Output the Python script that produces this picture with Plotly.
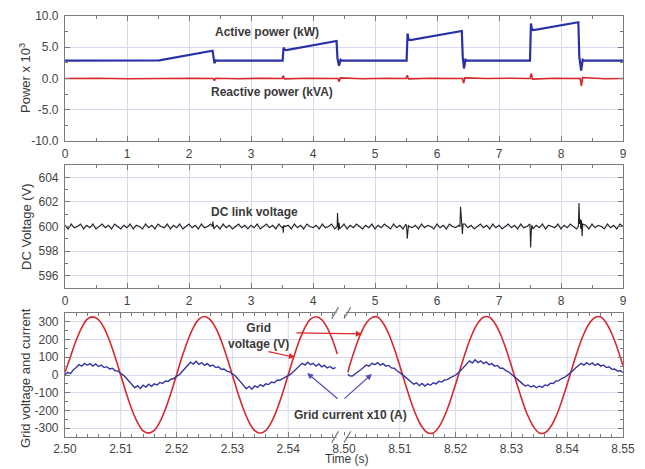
import numpy as np
import plotly.graph_objects as go

# ---------------- DATA ----------------
# Panel 1: active / reactive power (x10^3)
p_time = [0.0, 1.5, 1.52, 2.38, 2.395, 2.41, 2.43, 2.46, 3.51, 3.525, 3.545, 3.57,
          4.38, 4.395, 4.42, 4.445, 4.47, 5.51, 5.525, 5.54, 5.57, 6.40, 6.415, 6.435,
          6.46, 6.49, 7.50, 7.515, 7.53, 7.56, 8.28, 8.295, 8.325, 8.35, 8.38, 9.0]
active_kw = [2.85, 2.85, 2.9, 4.45, 3.0, 2.45, 2.9, 2.85, 2.85, 4.95, 4.6, 4.55,
             6.0, 3.2, 2.05, 3.0, 2.85, 2.85, 7.2, 6.3, 6.15, 7.6, 3.5, 1.6,
             3.0, 2.85, 2.85, 8.8, 7.9, 7.75, 9.0, 3.5, 1.25, 3.0, 2.85, 2.85]

q_time = [0, 0.5, 1.0, 1.5, 1.8, 2.1, 2.39, 2.41, 2.43, 2.8, 3.2, 3.50, 3.52, 3.54,
          3.9, 4.40, 4.42, 4.44, 4.8, 5.2, 5.50, 5.52, 5.54, 5.9, 6.41, 6.43, 6.45,
          6.8, 7.2, 7.50, 7.52, 7.54, 7.9, 8.31, 8.33, 8.35, 8.7, 9.0]
reactive_kva = [0.0, 0.05, -0.05, 0.05, 0.0, 0.05, 0.0, -0.35, 0.05, -0.05, 0.05, 0.0,
                0.45, -0.05, 0.05, 0.0, -0.5, 0.1, -0.05, 0.05, 0.0, 0.5, -0.05, 0.05,
                0.0, -0.75, 0.1, 0.0, 0.05, 0.0, 0.8, -0.1, 0.05, 0.0, -1.2, 0.15, -0.05, 0.0]
power_ticks = [-10, -5, 0, 5, 10]
power_tick_text = ["-10.0", "-5.0", "0.0", "5.0", "10.0"]

# Panel 2: DC link voltage (samples every 0.05 s) + transient samples
dc_step = 0.05
dc_noise = [
    600.1, 599.8, 600.2, 599.9, 600.0, 600.2, 599.8, 600.1, 599.9, 600.2, 599.8, 600.0, 600.2, 599.9, 600.1, 599.8, 600.2, 600.0, 599.8, 600.1,
    599.9, 600.2, 599.8, 600.1, 600.0, 599.8, 600.2, 599.9, 600.1, 599.8, 600.2, 600.0, 599.9, 600.2, 599.8, 600.1, 599.9, 600.2, 599.8, 600.0,
    600.2, 599.9, 600.1, 599.8, 600.2, 599.9, 600.0, 600.2, 599.8, 600.1, 599.8, 600.2, 599.9, 600.1, 599.8, 600.0, 600.2, 599.9, 600.1, 599.8,
    600.1, 599.9, 600.2, 599.8, 600.0, 600.2, 599.9, 600.1, 599.8, 600.2, 599.9, 600.0, 600.1, 599.8, 600.2, 599.9, 600.1, 599.8, 600.2, 600.0,
    599.9, 600.1, 599.8, 600.2, 599.9, 600.0, 600.2, 599.8, 600.1, 599.9, 600.2, 599.8, 600.1, 599.9, 600.2, 600.0, 599.8, 600.1, 599.9, 600.2,
    599.8, 600.1, 599.9, 600.2, 600.0, 599.8, 600.2, 599.9, 600.1, 599.8, 600.2, 600.0, 599.9, 600.1, 599.8, 600.2, 599.9, 600.1, 600.0, 599.8,
    600.2, 599.9, 600.1, 599.8, 600.2, 600.0, 599.9, 600.1, 599.8, 600.2, 599.9, 600.1, 599.8, 600.0, 600.2, 599.9, 600.1, 599.8, 600.2, 599.9,
    600.1, 599.8, 600.0, 600.2, 599.9, 600.1, 599.8, 600.2, 599.9, 600.0, 600.2, 599.8, 600.1, 599.9, 600.2, 599.8, 600.1, 600.0, 599.9, 600.2,
    599.8, 600.1, 599.9, 600.2, 600.0, 599.8, 600.2, 599.9, 600.1, 599.8, 600.2, 599.9, 600.1, 600.0, 599.8, 600.2, 599.9, 600.1, 599.8, 600.2,
    600.0]
dc_spike_t = [2.38, 2.385, 2.39, 3.515, 3.52, 3.53, 4.39, 4.395, 4.41, 4.42, 4.43,
              5.51, 5.52, 5.53, 5.54, 6.37, 6.38, 6.40, 6.41, 6.42,
              7.50, 7.51, 7.52, 7.53, 8.28, 8.29, 8.31, 8.32, 8.33, 8.34, 8.35]
dc_spike_v = [600.0, 600.4, 599.9, 600.0, 599.5, 600.1, 600.0, 601.1, 599.7, 600.3, 599.8,
              600.0, 599.0, 599.6, 600.1, 600.0, 601.6, 600.2, 599.4, 600.2,
              600.0, 598.3, 599.6, 600.1, 600.0, 601.9, 600.6, 599.8, 600.5, 599.2, 600.2]

# Panel 3: grid voltage (V) and grid current x10 (A), two time windows
va_step = 0.001
volt_a = [15, 105, 196, 268, 316, 328, 312, 266, 192, 100, -2, -104, -196, -268, -315, -328,
          -313, -265, -192, -100, 2, 104, 195, 268, 315, 330, 313, 266, 193, 101, -1, -103,
          -195, -267, -314, -329, -313, -266, -193, -101, 1, 103, 195, 268, 315, 329, 313,
          266, 193]
volt_a_end = (2.5488, 118)
volt_b_start = (8.5007, 15)
volt_b = [52, 150, 233, 294, 324, 328, 294, 233, 150, 52, -52, -150, -233, -294, -326, -327,
          -294, -233, -150, -52, 52, 150, 233, 294, 326, 328, 294, 233, 150, 52, -52, -150,
          -233, -294, -327, -326, -294, -233, -150, -52, 52, 150, 233, 294, 325, 328, 294,
          233, 150, 52]

ia_step = 0.0005
curr_a = [2, 15, 8, 30, 42, 58, 50, 66, 55, 64, 50, 62, 48, 56, 42, 47, 34, 38, 24, 22,
          8, -2, -18, -35, -52, -72, -60, -76, -58, -68, -52, -64, -50, -56, -42, -48, -34, -36, -24, -20,
          -8, 2, 20, 38, 55, 72, 62, 78, 60, 70, 54, 64, 50, 56, 42, 46, 32, 34, 22, 18,
          6, -4, -22, -40, -58, -78, -64, -80, -62, -70, -54, -64, -50, -54, -40, -44, -30, -30, -20, -14,
          -4, 6, 20, 34, 48, 66, 56, 72, 58, 66, 50, 62, 46, 54, 40, 48, 36, 42]
curr_b_start = (8.5007, 4)
curr_b = [-4, -6, 4, 18, 30, 44, 56, 50, 66, 58, 70, 56, 64, 50, 54, 40, 38, 24, 14, 2,
          -12, -26, -38, -52, -44, -60, -48, -62, -50, -58, -44, -50, -36, -40, -28, -26, -16, -10, 0, 12,
          28, 44, 62, 80, 68, 86, 70, 80, 64, 74, 58, 64, 50, 54, 38, 38, 24, 18, 4, -8,
          -22, -36, -50, -62, -56, -68, -60, -72, -62, -70, -56, -60, -46, -48, -34, -32, -20, -14, -2, 10,
          24, 40, 52, 66, 56, 70, 58, 68, 54, 64, 50, 56, 42, 46, 32, 34, 22, 24, 14]

grid_ticks = [-300, -200, -100, 0, 100, 200, 300]
grid_tick_text = ["-300", "-200", "-100", "0", "100", "200", "300"]
bottom_ticks = ["2.50", "2.51", "2.52", "2.53", "2.54", "8.50", "8.51", "8.52", "8.53", "8.54", "8.55"]

# ---------------- BUILD ----------------
dc_t = np.round(np.arange(len(dc_noise)) * dc_step, 4)
dc_all_t = np.concatenate([dc_t, dc_spike_t])
dc_all_v = np.concatenate([dc_noise, dc_spike_v])
order = np.argsort(dc_all_t, kind="stable")
dc_all_t, dc_all_v = dc_all_t[order], dc_all_v[order]

# broken time axis: window A starts at 2.50, window B at 8.50 placed after 0.05 of A
A0, B0, GAP = 2.50, 8.50, 0.05
va_t = list(A0 + np.arange(len(volt_a)) * va_step) + [volt_a_end[0]]
va_v = volt_a + [volt_a_end[1]]
vb_t = [volt_b_start[0]] + list(8.501 + np.arange(len(volt_b)) * va_step)
vb_v = [volt_b_start[1]] + volt_b
ia_t = list(A0 + np.arange(len(curr_a)) * ia_step)
ib_t = [curr_b_start[0]] + list(8.501 + np.arange(len(curr_b)) * ia_step)
ib_v = [curr_b_start[1]] + curr_b

def disp_a(t):
    return [x - A0 for x in t]

def disp_b(t):
    return [x - B0 + GAP for x in t]

BLUE = "#2a30a6"
RED = "#d8282c"
GRID = "#d8d8f0"
AX = "#7a7a7a"
TXT = "#3a3a3a"
FONT = "Arial, Liberation Sans, sans-serif"

fig = go.Figure()
fig.add_trace(go.Scatter(x=p_time, y=active_kw, mode="lines", line=dict(color=BLUE, width=2.2),
                         xaxis="x", yaxis="y"))
fig.add_trace(go.Scatter(x=q_time, y=reactive_kva, mode="lines", line=dict(color=RED, width=1.6),
                         xaxis="x", yaxis="y"))
fig.add_trace(go.Scatter(x=dc_all_t, y=dc_all_v, mode="lines", line=dict(color="#222222", width=1.1),
                         xaxis="x2", yaxis="y2"))
for tt, vv in [(disp_a(va_t), va_v), (disp_b(vb_t), vb_v)]:
    fig.add_trace(go.Scatter(x=tt, y=vv, mode="lines", line=dict(color=RED, width=1.6, shape="spline"),
                             xaxis="x3", yaxis="y3"))
for tt, vv in [(disp_a(ia_t), curr_a), (disp_b(ib_t), ib_v)]:
    fig.add_trace(go.Scatter(x=tt, y=vv, mode="lines", line=dict(color="#3434a2", width=1.4),
                             xaxis="x3", yaxis="y3"))

W, H = 645, 469
xl, xr = 65 / W, 623 / W
dom1 = [1 - 141 / H, 1 - 16 / H]
dom2 = [1 - 288 / H, 1 - 165 / H]
dom3 = [1 - 437 / H, 1 - 313 / H]

def axstyle(**kw):
    d = dict(showline=True, linecolor=AX, linewidth=1.2, mirror="ticks", ticks="inside",
             ticklen=5, tickcolor=AX, tickwidth=1, gridcolor=GRID, gridwidth=1,
             zeroline=False, automargin=False, tickfont=dict(family=FONT, size=12, color="#444"),
             ticklabelstandoff=3)
    d.update(kw)
    return d

minor = lambda dt: dict(dtick=dt, ticks="inside", ticklen=3, tickcolor=AX, showgrid=False)

bt_vals = [round(0.01 * i, 3) for i in range(len(bottom_ticks))]

fig.update_layout(
    width=W, height=H, margin=dict(l=0, r=0, t=0, b=0, autoexpand=False),
    paper_bgcolor="white", plot_bgcolor="white", showlegend=False,
    xaxis=axstyle(domain=[xl, xr], range=[0, 9], anchor="y", dtick=1, tick0=0, minor=minor(0.5),
                  ticklabelstandoff=1),
    yaxis=axstyle(domain=dom1, range=[-10, 10], anchor="x", tickmode="array", tickvals=power_ticks,
                  ticktext=power_tick_text, minor=minor(2.5)),
    xaxis2=axstyle(domain=[xl, xr], range=[0, 9], anchor="y2", dtick=1, tick0=0, minor=minor(0.5),
                   ticklabelstandoff=1),
    yaxis2=axstyle(domain=dom2, range=[595, 605], anchor="x2", tickvals=[596, 598, 600, 602, 604],
                   minor=dict(tickvals=[595, 597, 599, 601, 603, 605], ticks="inside", ticklen=3,
                              tickcolor=AX, showgrid=False)),
    xaxis3=axstyle(domain=[xl, xr], range=[0, 0.1], anchor="y3", tickmode="array",
                   tickvals=bt_vals, ticktext=bottom_ticks, showgrid=False, ticklabelstandoff=0,
                   minor=dict(tick0=0, dtick=0.002, ticks="inside", ticklen=3, tickcolor=AX, showgrid=False)),
    yaxis3=axstyle(domain=dom3, range=[-350, 350], anchor="x3", tickmode="array", tickvals=grid_ticks,
                   ticktext=grid_tick_text, minor=minor(50)),
)

# vertical grid lines of the broken time axis (skip the break)
for v in bt_vals[1:-1]:
    if abs(v - GAP) < 1e-9:
        continue
    fig.add_shape(type="line", xref="x3", yref="y3 domain", x0=v, x1=v, y0=0, y1=1,
                  line=dict(color=GRID, width=1), layer="below")

# axis break marks
for yd in (0, 1):
    fig.add_shape(type="rect", xref="x3", yref="y3 domain", x0=0.0487, x1=0.0503,
                  y0=yd - 0.012, y1=yd + 0.012, line=dict(width=0), fillcolor="white", layer="above")
    for xc in (0.0484, 0.0506):
        fig.add_shape(type="line", xref="x3", yref="y3 domain", x0=xc - 0.0006, x1=xc + 0.0006,
                      y0=yd - 0.045, y1=yd + 0.045, line=dict(color=AX, width=1.2), layer="above")

def label(text, x, y, xref, yref, size=12, bold=True, angle=0, yanchor="middle"):
    fig.add_annotation(text=f"<b>{text}</b>" if bold else text, x=x, y=y, xref=xref, yref=yref,
                       showarrow=False, textangle=angle, xanchor="center", yanchor=yanchor,
                       font=dict(family=FONT, size=size, color=TXT))

label("Active power (kW)", 3.26, 7.45, "x", "y")
label("Reactive power (kVA)", 3.34, -2.1, "x", "y")
label("DC link voltage", 3.06, 601.2, "x2", "y2")
label("Grid<br>voltage (V)", 0.0347, 222, "x3", "y3")
label("Grid current x10 (A)", 0.0511, -226, "x3", "y3")

label("Power x 10<sup>3</sup>", 25 / W, 1 - 78 / H, "paper", "paper", size=13, bold=False, angle=-90)
label("DC Voltage (V)", 26 / W, 1 - 227 / H, "paper", "paper", size=13, bold=False, angle=-90)
label("Grid voltage and current", 25 / W, 1 - 378 / H, "paper", "paper", size=13, bold=False, angle=-90)
label("Time (s)", 347 / W, 1 / H, "paper", "paper", size=12, bold=False, yanchor="bottom")

def arrow(x, y, ax, ay, color):
    fig.add_annotation(x=x, y=y, xref="x3", yref="y3", ax=ax, ay=ay, axref="pixel", ayref="pixel",
                       text="", showarrow=True, arrowhead=2, arrowsize=1, arrowwidth=1.2,
                       arrowcolor=color)

arrow(0.0412, 100, -28, -6, RED)
arrow(0.0532, 232, -67, -1, RED)
arrow(0.0434, 11, 32, 27, "#5050b8")
arrow(0.0550, 6, -29, 26, "#5050b8")

fig.write_html("out.html")
